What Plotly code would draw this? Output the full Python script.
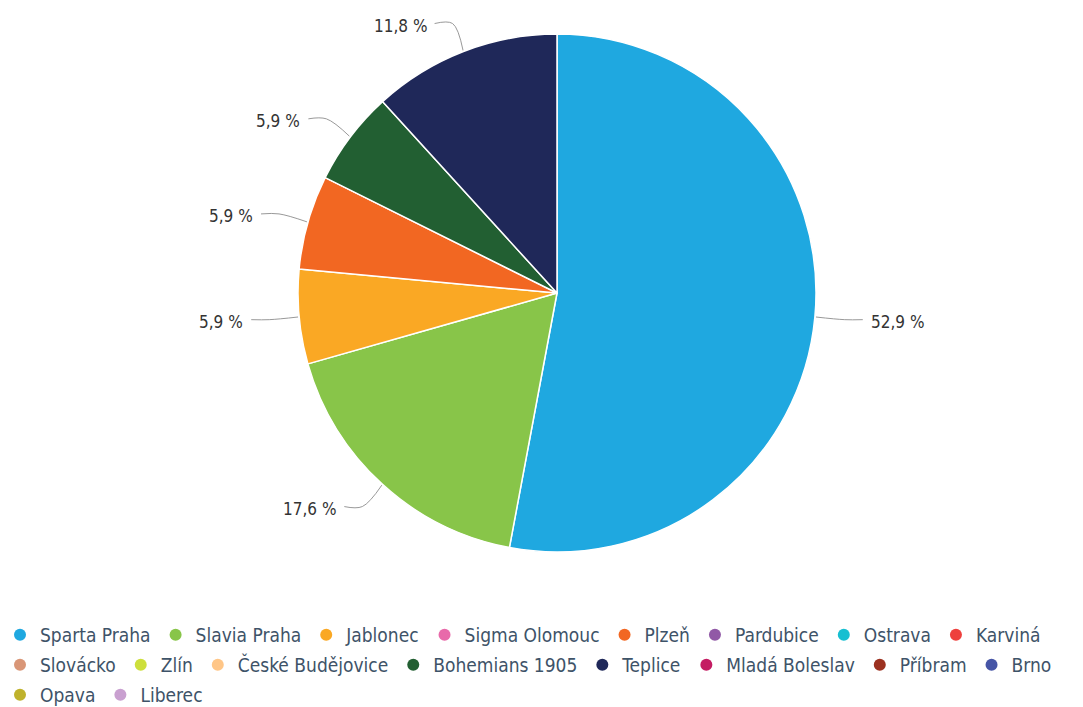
import math
import plotly.graph_objects as go

# ---- data ----
teams = ["Sparta Praha", "Slavia Praha", "Jablonec", "Sigma Olomouc", "Plzeň", "Pardubice",
         "Ostrava", "Karviná", "Slovácko", "Zlín", "České Budějovice", "Bohemians 1905",
         "Teplice", "Mladá Boleslav", "Příbram", "Brno", "Opava", "Liberec"]
counts = [9, 3, 1, 0, 1, 0, 0, 0, 0, 0, 0, 1, 2, 0, 0, 0, 0, 0]
colors = ["#1fa8e0", "#88c549", "#faa824", "#e86aaa", "#f26722", "#9159a6",
          "#17bfd1", "#ee403d", "#d99677", "#cddf3c", "#ffc687", "#225f32",
          "#1f2859", "#c41c63", "#9c3120", "#4655a6", "#bfb22c", "#c9a0d0"]
legend_rows = [0, 0, 0, 0, 0, 0, 0, 0, 1, 1, 1, 1, 1, 1, 1, 1, 2, 2]

# ---- layout constants ----
W, H = 1083, 707
CX, CY, R = 557, 293, 259
FONT = "DejaVu Sans Condensed"

total = sum(counts)
pie_labels = [t for t, c in zip(teams, counts) if c > 0]
pie_values = [c for c in counts if c > 0]
pie_colors = [col for col, c in zip(colors, counts) if c > 0]

fig = go.Figure()
fig.add_trace(go.Pie(
    labels=pie_labels, values=pie_values, sort=False, direction="clockwise", rotation=0,
    marker=dict(colors=pie_colors, line=dict(color="white", width=1.5)),
    textinfo="none", showlegend=False,
    domain=dict(x=[(CX - R) / W, (CX + R) / W], y=[1 - (CY + R) / H, 1 - (CY - R) / H]),
))

# leader lines and labels computed from the data
annotations = []
cum = 0
for lab, v in zip(pie_labels, pie_values):
    mid = (cum + v / 2) / total * 2 * math.pi
    cum += v
    s, c = math.sin(mid), math.cos(mid)
    side = 1 if s >= 0 else -1
    p0 = (CX + (R + 1) * s, CY - (R + 1) * c)
    p1 = (CX + (R + 30) * s, CY - (R + 30) * c)
    p2 = (p1[0] + side * 18, p1[1])
    fig.add_trace(go.Scatter(
        x=[p0[0], p1[0], p2[0]], y=[p0[1], p1[1], p2[1]], mode="lines",
        line=dict(color="#999999", width=1, shape="spline"), hoverinfo="skip",
        showlegend=False, xaxis="x", yaxis="y"))
    pct = f"{v / total * 100:.1f}".replace(".", ",") + " %"
    annotations.append(dict(
        x=p2[0] + side * 6, y=p2[1] + 2, xref="x", yref="y", text=pct, showarrow=False,
        xanchor="left" if side > 0 else "right", yanchor="middle",
        font=dict(family=FONT, size=17, color="#333333")))

# legend entries with circular markers, one legend per row
legend_names = ["legend", "legend2", "legend3"]
for t, col, row in zip(teams, colors, legend_rows):
    fig.add_trace(go.Scatter(
        x=[None], y=[None], mode="markers", name=t, legend=legend_names[row],
        marker=dict(symbol="circle", size=14, color=col), showlegend=True))

row_y = [635, 665, 695]
legend_style = dict(orientation="h", x=0.0, xanchor="left", yanchor="middle",
                    font=dict(family=FONT, size=19, color="#3e5368"),
                    itemsizing="constant", bgcolor="rgba(0,0,0,0)")

fig.update_layout(
    width=W, height=H, margin=dict(l=0, r=0, t=0, b=0, autoexpand=False),
    paper_bgcolor="white", plot_bgcolor="rgba(0,0,0,0)",
    xaxis=dict(visible=False, range=[0, W], domain=[0, 1], fixedrange=True),
    yaxis=dict(visible=False, range=[H, 0], domain=[0, 1], fixedrange=True),
    annotations=annotations,
    legend=dict(y=1 - row_y[0] / H, **legend_style),
    legend2=dict(y=1 - row_y[1] / H, **legend_style),
    legend3=dict(y=1 - row_y[2] / H, **legend_style),
    font=dict(family=FONT),
)

fig.write_html("out.html")
